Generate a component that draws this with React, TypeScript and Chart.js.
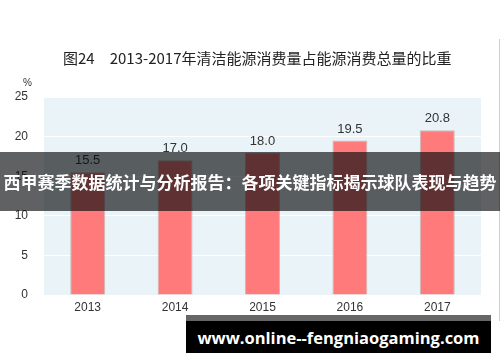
import React, { useEffect, useRef } from "react";
import { Chart, registerables } from "chart.js";

Chart.register(...registerables);

// Share of clean energy in total energy consumption, 2013–2017 (%)
const years = ["2013", "2014", "2015", "2016", "2017"];
const shares = [15.5, 17.0, 18.0, 19.5, 20.8];
const yTicks = [0, 5, 10, 15, 20, 25];

const titleText = "图24";
const titleRest = "2013-2017年清洁能源消费量占能源消费总量的比重";
const unitText = "%";
const bannerText = "西甲赛季数据统计与分析报告：各项关键指标揭示球队表现与趋势";
const siteText = "www.online--fengniaogaming.com";

const plotBg = {
  id: "plotBg",
  beforeDraw(chart: any) {
    const { ctx, chartArea } = chart;
    if (!chartArea) return;
    ctx.save();
    ctx.fillStyle = "#EAF4F8";
    ctx.fillRect(chartArea.left, chartArea.top, chartArea.right - chartArea.left, chartArea.bottom - chartArea.top);
    ctx.restore();
  },
};

const valueLabels = {
  id: "valueLabels",
  afterDatasetsDraw(chart: any) {
    const { ctx } = chart;
    const meta = chart.getDatasetMeta(0);
    const data = chart.data.datasets[0].data as number[];
    ctx.save();
    ctx.fillStyle = "#333";
    ctx.font = "13px 'Liberation Sans', Arial, sans-serif";
    ctx.textAlign = "center";
    ctx.textBaseline = "bottom";
    meta.data.forEach((bar: any, i: number) => {
      ctx.fillText(data[i].toFixed(1), bar.x, bar.y - 5);
    });
    ctx.restore();
  },
};

export default function App() {
  const canvasRef = useRef<HTMLCanvasElement | null>(null);

  useEffect(() => {
    document.body.style.margin = "0";
    const canvas = canvasRef.current;
    if (!canvas) return;
    const chart = new Chart(canvas, {
      type: "bar",
      data: {
        labels: years,
        datasets: [
          {
            data: shares,
            backgroundColor: "#FF7B7B",
            borderColor: "rgba(190,165,165,0.75)",
            borderWidth: 1,
            borderSkipped: "bottom",
            categoryPercentage: 1,
            barPercentage: 0.4,
          },
        ],
      },
      options: {
        animation: false,
        responsive: false,
        maintainAspectRatio: false,
        layout: { padding: { left: 0, right: 19, top: 97, bottom: 0 } },
        plugins: {
          legend: { display: false },
          tooltip: { enabled: false },
          title: { display: false },
        },
        scales: {
          x: {
            grid: { display: false, drawTicks: false },
            border: { display: false },
            ticks: {
              color: "#333",
              font: { family: "'Liberation Sans', Arial, sans-serif", size: 12 },
              padding: 5,
              maxRotation: 0,
            },
            afterFit(scale: any) {
              scale.height = 67;
            },
          },
          y: {
            min: 0,
            max: 25,
            afterBuildTicks(scale: any) {
              scale.ticks = yTicks.map((v) => ({ value: v }));
            },
            grid: { color: "#FFFFFF", lineWidth: 1, drawTicks: false },
            border: { display: false },
            ticks: {
              color: "#333",
              font: { family: "'Liberation Sans', Arial, sans-serif", size: 12 },
              padding: 16,
            },
            afterFit(scale: any) {
              scale.width = 44;
            },
          },
        },
      },
      plugins: [plotBg, valueLabels],
    });
    return () => chart.destroy();
  }, []);

  return (
    <div style={{ position: "relative", width: 500, height: 362, background: "#fff", overflow: "hidden" }}>
      <canvas ref={canvasRef} width={500} height={362} style={{ position: "absolute", left: 0, top: 0, width: 500, height: 362 }} />
      <div
        style={{
          position: "absolute",
          left: 63,
          top: 48,
          fontFamily: "'Noto Sans CJK SC', sans-serif",
          fontSize: 15,
          lineHeight: "20px",
          color: "#222",
          whiteSpace: "nowrap",
        }}
      >
        <span>{titleText}</span>
        <span style={{ marginLeft: 15 }}>{titleRest}</span>
      </div>
      <div
        style={{
          position: "absolute",
          left: 23,
          top: 77,
          fontFamily: "'Liberation Sans', Arial, sans-serif",
          fontSize: 10,
          lineHeight: "12px",
          color: "#333",
        }}
      >
        {unitText}
      </div>
      <div style={{ position: "absolute", left: 499, top: 39, width: 1, height: 282, background: "#cfcfcf" }} />
      <div
        style={{
          position: "absolute",
          left: 0,
          top: 152,
          width: 500,
          height: 59,
          background: "rgba(5,8,10,0.64)",
          display: "flex",
          alignItems: "center",
          justifyContent: "center",
          color: "#fff",
          fontFamily: "'Noto Sans CJK SC', sans-serif",
          fontWeight: 700,
          fontSize: 17,
          whiteSpace: "nowrap",
        }}
      >
        {bannerText}
      </div>
      <div style={{ position: "absolute", left: 186, top: 315, width: 305, height: 6, background: "#666" }} />
      <div
        style={{
          position: "absolute",
          left: 186,
          top: 321,
          width: 305,
          height: 32,
          background: "#000",
          display: "flex",
          alignItems: "center",
          justifyContent: "center",
          color: "#fff",
          fontFamily: "'Open Sans', 'DejaVu Sans', sans-serif",
          fontWeight: 700,
          fontSize: 16.5,
          whiteSpace: "nowrap",
        }}
      >
        {siteText}
      </div>
    </div>
  );
}
